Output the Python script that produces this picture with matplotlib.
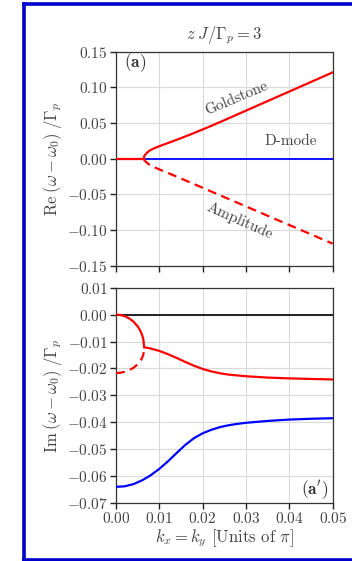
import matplotlib
matplotlib.use("Agg")
import matplotlib.pyplot as plt
from matplotlib.lines import Line2D
from matplotlib.ticker import FixedLocator, FuncFormatter

plt.rcParams['font.family'] = 'serif'
plt.rcParams['font.serif'] = ['cmr10']
plt.rcParams['mathtext.fontset'] = 'cm'
plt.rcParams['axes.formatter.use_mathtext'] = True
plt.rcParams['axes.unicode_minus'] = False

# ---------------- data ----------------
# Top panel: Re part
k_flat = [0.0, 0.0064]
re_flat = [0.0, 0.0]

k_gold = [0.0064, 0.00645, 0.0066, 0.007, 0.0075, 0.008, 0.0086, 0.009, 0.010,
          0.011, 0.012, 0.014, 0.016, 0.018, 0.020, 0.0225, 0.025, 0.030,
          0.035, 0.040, 0.045, 0.050]
re_gold = [0.0, 0.0020, 0.0045, 0.0075, 0.0102, 0.0122, 0.0140, 0.0151, 0.0175,
           0.0198, 0.0220, 0.0265, 0.0312, 0.0360, 0.0410, 0.0474, 0.0540, 0.0674,
           0.0808, 0.0942, 0.1076, 0.1210]

k_amp = [0.0064, 0.0066, 0.007, 0.0075, 0.008, 0.009, 0.010, 0.012, 0.014,
         0.016, 0.018, 0.020, 0.025, 0.030, 0.035, 0.040, 0.045, 0.050]
re_amp = [0.0, -0.0025, -0.0050, -0.0075, -0.0095, -0.0123, -0.0150, -0.0200, -0.0252,
          -0.0304, -0.0356, -0.0408, -0.0539, -0.0669, -0.0800, -0.0930, -0.1061, -0.1191]

k_dmode = [0.0, 0.05]
re_dmode = [0.0, 0.0]

# Bottom panel: Im part
k_circ = [0.0, 0.001, 0.002, 0.003, 0.004, 0.005, 0.0055, 0.006, 0.0063, 0.0065]
im_upper = [0.0, -0.00014, -0.00059, -0.00137, -0.00256, -0.00437, -0.00565,
            -0.00745, -0.00912, -0.0121]
im_lower = [-0.0217, -0.02159, -0.02126, -0.02068, -0.01979, -0.01845, -0.0175,
            -0.01616, -0.01492, -0.0127]

k_red = [0.0065, 0.008, 0.010, 0.012, 0.014, 0.016, 0.018, 0.020, 0.022, 0.024,
         0.026, 0.028, 0.030, 0.035, 0.040, 0.045, 0.050]
im_red = [-0.0121, -0.0126, -0.0135, -0.0147, -0.0161, -0.0176, -0.0190, -0.0202,
          -0.0211, -0.0218, -0.0223, -0.0226, -0.0229, -0.0234, -0.0237, -0.0239,
          -0.0241]

k_blue = [0.0, 0.002, 0.004, 0.006, 0.008, 0.010, 0.012, 0.014, 0.016, 0.018,
          0.020, 0.022, 0.024, 0.026, 0.028, 0.030, 0.035, 0.040, 0.045, 0.050]
im_blue = [-0.0640, -0.0638, -0.0630, -0.0616, -0.0597, -0.0573, -0.0545, -0.0514,
           -0.0484, -0.0459, -0.0441, -0.0428, -0.0418, -0.0411, -0.0406, -0.0402,
           -0.0395, -0.0390, -0.0387, -0.0385]

k_zero = [0.0, 0.05]
im_zero = [0.0, 0.0]

xticks = [0.00, 0.01, 0.02, 0.03, 0.04, 0.05]
yticks_top = [-0.15, -0.10, -0.05, 0.00, 0.05, 0.10, 0.15]
yticks_bot = [-0.07, -0.06, -0.05, -0.04, -0.03, -0.02, -0.01, 0.00, 0.01]

# ---------------- figure ----------------
W, H = 352, 561
fig = plt.figure(figsize=(W / 100, H / 100), dpi=100)

ax1 = fig.add_axes([116 / W, 1 - 265.7 / H, 216.7 / W, 214.0 / H])
ax2 = fig.add_axes([116 / W, 1 - 503.0 / H, 216.7 / W, 215.3 / H])

fmt = FuncFormatter(lambda v, p: r'$%.2f$' % v)

for ax, yt in ((ax1, yticks_top), (ax2, yticks_bot)):
    ax.set_xlim(0, 0.05)
    ax.set_ylim(yt[0], yt[-1])
    ax.xaxis.set_major_locator(FixedLocator(xticks))
    ax.yaxis.set_major_locator(FixedLocator(yt))
    ax.yaxis.set_major_formatter(fmt)
    ax.xaxis.set_major_formatter(fmt)
    ax.grid(True, color='#d9d9d9', lw=0.8)
    ax.set_axisbelow(True)
    ax.tick_params(direction='out', length=4, width=1, labelsize=11,
                   colors='#222222', labelcolor='#444444', pad=2)
    for s in ax.spines.values():
        s.set_color('#333333')
        s.set_linewidth(0.9)

ax1.tick_params(labelbottom=False)

# top panel curves
ax1.plot(k_dmode, re_dmode, color='#0000ff', lw=1.3, zorder=3)
ax1.plot(k_flat, re_flat, color='#ff0000', lw=1.6, zorder=4)
ax1.plot(k_gold, re_gold, color='#ff0000', lw=1.6, zorder=4)
ax1.plot(k_amp, re_amp, color='#ff0000', lw=1.6, ls=(0, (4, 2.5)), zorder=4)

ax1.text(0.0279, 0.085, 'Goldstone', rotation=23, ha='center', va='center',
         fontsize=11, color='#444444')
ax1.text(0.0404, 0.024, 'D-mode', ha='center', va='center', fontsize=11,
         color='#444444')
ax1.text(0.0286, -0.087, 'Amplitude', rotation=-24, ha='center', va='center',
         fontsize=11, color='#444444')
ax1.text(0.0044, 0.134, r'$\mathbf{(a)}$', ha='center', va='center', fontsize=12.5,
         color='#333333')
ax1.set_title(r'$z\;J/\Gamma_p = 3$', fontsize=12, color='#444444', pad=9)
ax1.set_ylabel(r'$\mathrm{Re}\;(\omega-\omega_0)\;/\Gamma_p$', fontsize=12,
               color='#444444', labelpad=2)

# bottom panel curves
ax2.plot(k_zero, im_zero, color='black', lw=1.2, zorder=3)
ax2.plot(k_circ, im_upper, color='#ff0000', lw=1.6, zorder=4)
ax2.plot(k_circ, im_lower, color='#ff0000', lw=1.6, ls=(0, (4, 2.5)), zorder=4)
ax2.plot(k_red, im_red, color='#ff0000', lw=1.6, zorder=4)
ax2.plot(k_blue, im_blue, color='#0000ff', lw=1.6, zorder=4)

ax2.text(0.0490, -0.0652, r"$\mathbf{(a')}$", ha='right', va='center', fontsize=12.5,
         color='#333333')
ax2.set_ylabel(r'$\mathrm{Im}\;(\omega-\omega_0)\;/\Gamma_p$', fontsize=12,
               color='#444444', labelpad=2)
ax2.set_xlabel(r'$k_x = k_y$ [Units of $\pi$]', fontsize=12, color='#444444',
               labelpad=1)

# blue frame
lw_frame = 2.6
fig.add_artist(Line2D([24.2 / W, 24.2 / W], [1 - 3.8 / H, 1 - 559.5 / H],
                      color='#0000cc', lw=lw_frame, transform=fig.transFigure,
                      solid_capstyle='projecting'))
fig.add_artist(Line2D([24.2 / W, 1.02], [1 - 3.8 / H, 1 - 3.8 / H],
                      color='#0000cc', lw=lw_frame, transform=fig.transFigure))
fig.add_artist(Line2D([24.2 / W, 1.02], [1 - 559.5 / H, 1 - 559.5 / H],
                      color='#0000cc', lw=lw_frame, transform=fig.transFigure))

fig.savefig('out.png', dpi=100)
